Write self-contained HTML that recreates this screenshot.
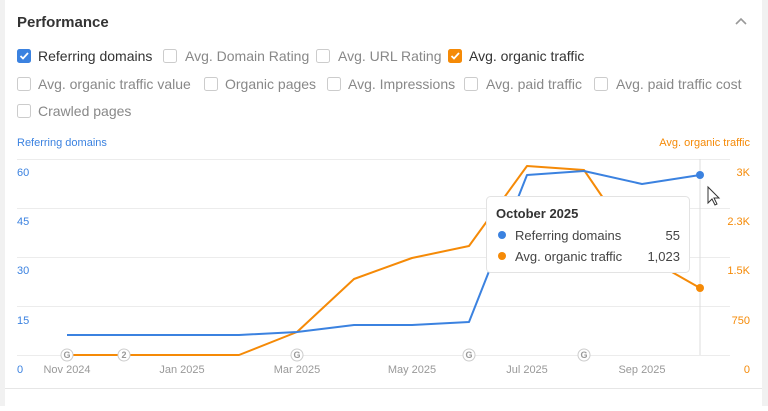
<!DOCTYPE html>
<html><head><style>
html,body{margin:0;padding:0;background:#fff;}
body{width:768px;height:406px;overflow:hidden;position:relative;font-family:"Liberation Sans",sans-serif;}
</style></head><body>
<svg width="768" height="406" xmlns="http://www.w3.org/2000/svg" font-family="Liberation Sans, sans-serif">
<rect width="768" height="406" fill="#fff"/>
<rect x="0" y="0" width="5" height="406" fill="#f1f1f1"/>
<rect x="762" y="0" width="6" height="406" fill="#f1f1f1"/>
<line x1="5" y1="388.5" x2="762" y2="388.5" stroke="#e6e6e6"/>
<text x="17" y="27" font-size="15" font-weight="bold" fill="#333">Performance</text>
<path d="M736 24 L741 19 L746 24" stroke="#999" stroke-width="1.6" fill="none"/>
<g font-size="14" fill="#888">
<rect x="17.5" y="49.5" width="13" height="13" rx="2" fill="#3b82e0" stroke="#3b82e0"/>
<path d="M20.5 56 L23 58.5 L28 53" stroke="#fff" stroke-width="1.8" fill="none"/>
<text x="38" y="61" fill="#333">Referring domains</text>
<rect x="163.5" y="49.5" width="13" height="13" rx="2" fill="#fff" stroke="#ccc"/>
<text x="185" y="61">Avg. Domain Rating</text>
<rect x="316.5" y="49.5" width="13" height="13" rx="2" fill="#fff" stroke="#ccc"/>
<text x="338" y="61">Avg. URL Rating</text>
<rect x="448.5" y="49.5" width="13" height="13" rx="2" fill="#f58a07" stroke="#f58a07"/>
<path d="M451.5 56 L454 58.5 L459 53" stroke="#fff" stroke-width="1.8" fill="none"/>
<text x="469" y="61" fill="#333">Avg. organic traffic</text>
<rect x="17.5" y="77.5" width="13" height="13" rx="2" fill="#fff" stroke="#ccc"/>
<text x="38" y="89">Avg. organic traffic value</text>
<rect x="204.5" y="77.5" width="13" height="13" rx="2" fill="#fff" stroke="#ccc"/>
<text x="225" y="89">Organic pages</text>
<rect x="327.5" y="77.5" width="13" height="13" rx="2" fill="#fff" stroke="#ccc"/>
<text x="348" y="89">Avg. Impressions</text>
<rect x="464.5" y="77.5" width="13" height="13" rx="2" fill="#fff" stroke="#ccc"/>
<text x="486" y="89">Avg. paid traffic</text>
<rect x="594.5" y="77.5" width="13" height="13" rx="2" fill="#fff" stroke="#ccc"/>
<text x="616" y="89">Avg. paid traffic cost</text>
<rect x="17.5" y="104.5" width="13" height="13" rx="2" fill="#fff" stroke="#ccc"/>
<text x="38" y="116">Crawled pages</text>
</g>
<text x="17" y="146" font-size="11" fill="#3b82e0">Referring domains</text>
<text x="750" y="146" font-size="11" fill="#f58a07" text-anchor="end">Avg. organic traffic</text>
<g stroke="#ececec">
<line x1="17" y1="159.5" x2="730" y2="159.5"/>
<line x1="17" y1="208.5" x2="730" y2="208.5"/>
<line x1="17" y1="257.5" x2="730" y2="257.5"/>
<line x1="17" y1="306.5" x2="730" y2="306.5"/>
<line x1="17" y1="355.5" x2="730" y2="355.5"/>
</g>
<g font-size="11" fill="#3b82e0">
<text x="17" y="176">60</text><text x="17" y="225">45</text><text x="17" y="274">30</text><text x="17" y="324">15</text><text x="17" y="373">0</text>
</g>
<g font-size="11" fill="#f58a07" text-anchor="end">
<text x="750" y="176">3K</text><text x="750" y="225">2.3K</text><text x="750" y="274">1.5K</text><text x="750" y="324">750</text><text x="750" y="373">0</text>
</g>
<g font-size="11" fill="#999" text-anchor="middle">
<text x="67" y="373">Nov 2024</text><text x="182" y="373">Jan 2025</text><text x="297" y="373">Mar 2025</text><text x="412" y="373">May 2025</text><text x="527" y="373">Jul 2025</text><text x="642" y="373">Sep 2025</text>
</g>
<line x1="700" y1="159" x2="700" y2="355" stroke="#ddd"/>
<polyline fill="none" stroke="#f58a07" stroke-width="2" stroke-linejoin="round" points="67,355 124,355 182,355 239,355 297,332 354,279 412,258 469,246 527,166 584,170 642,255 700,288"/>
<polyline fill="none" stroke="#3b82e0" stroke-width="2" stroke-linejoin="round" points="67,335 124,335 182,335 239,335 297,332 354,325 412,325 469,322 527,175 584,171 642,184 700,175"/>
<circle cx="700" cy="175" r="4" fill="#3b82e0"/>
<circle cx="700" cy="288" r="4" fill="#f58a07"/>
<g font-size="9" fill="#999" text-anchor="middle" font-weight="bold">
<circle cx="67" cy="355" r="6" fill="#fff" stroke="#ccc"/><text x="67" y="358">G</text>
<circle cx="124" cy="355" r="6" fill="#fff" stroke="#ccc"/><text x="124" y="358">2</text>
<circle cx="297" cy="355" r="6" fill="#fff" stroke="#ccc"/><text x="297" y="358">G</text>
<circle cx="469" cy="355" r="6" fill="#fff" stroke="#ccc"/><text x="469" y="358">G</text>
<circle cx="584" cy="355" r="6" fill="#fff" stroke="#ccc"/><text x="584" y="358">G</text>
</g>
<rect x="486.5" y="196.5" width="203" height="76" rx="4" fill="#fff" stroke="#e3e3e3"/>
<text x="496" y="218" font-size="13" font-weight="bold" fill="#333">October 2025</text>
<circle cx="502" cy="235" r="4" fill="#3b82e0"/>
<text x="515" y="240" font-size="13" fill="#444">Referring domains</text>
<text x="680" y="240" font-size="13" fill="#444" text-anchor="end">55</text>
<circle cx="502" cy="256" r="4" fill="#f58a07"/>
<text x="515" y="261" font-size="13" fill="#444">Avg. organic traffic</text>
<text x="680" y="261" font-size="13" fill="#444" text-anchor="end">1,023</text>
<path d="M708 187 L708 203 L712 199 L715 205 L717 204 L714 198 L719 198 Z" fill="#fff" stroke="#333" stroke-width="1"/>
</svg>
</body></html>
